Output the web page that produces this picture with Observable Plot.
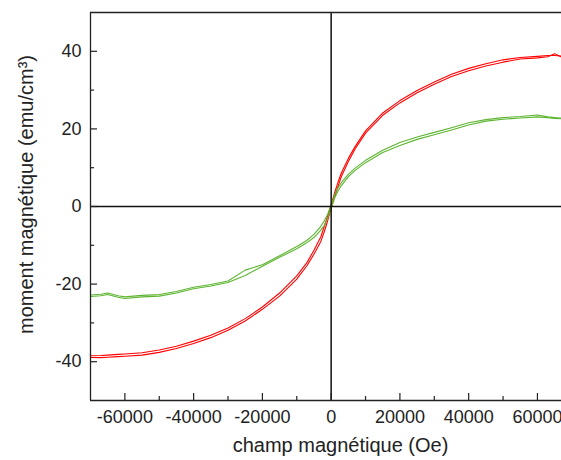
<!DOCTYPE html>
<html>
<head>
<meta charset="utf-8">
<script src="https://cdn.jsdelivr.net/npm/d3@7"></script>
<script src="https://cdn.jsdelivr.net/npm/@observablehq/plot@0.6"></script>
<style>
  html, body { margin: 0; padding: 0; background: #fff; }
</style>
</head>
<body>
<div id="chart"></div>
<script>
// Magnetic field (Oe)
const field = [-70000,-67000,-65000,-62000,-60000,-55000,-50000,-45000,-40000,-35000,-30000,-25000,-20000,-15000,-10000,-7000,-5000,-3000,-2000,-1000,0,1000,2000,3000,5000,7000,10000,15000,20000,25000,30000,35000,40000,45000,50000,55000,60000,63000,65000,67000];

// Red sample: descending and ascending branches (emu/cm3)
const redDown = [-38.45,-38.4,-38.3,-38.1,-38.0,-37.7,-37.0,-36.0,-34.7,-33.2,-31.3,-28.9,-25.9,-22.3,-17.9,-14.4,-11.3,-7.8,-5.1,-2.4,0.4,3.5,6.3,8.7,12.4,15.5,19.5,24.1,27.3,29.9,32.1,34.1,35.6,36.8,37.8,38.4,38.7,38.9,38.9,38.8];
const redUp   = [-38.9,-38.95,-38.85,-38.7,-38.6,-38.3,-37.6,-36.6,-35.3,-33.8,-31.9,-29.5,-26.5,-23.1,-18.7,-15.2,-12.3,-9.0,-6.5,-3.6,-0.4,2.4,5.2,7.8,11.6,14.9,18.9,23.5,26.7,29.3,31.5,33.5,35.0,36.2,37.2,38.0,38.3,38.6,39.4,38.5];

// Green sample: descending and ascending branches (emu/cm3)
const greenDown = [-22.8,-22.6,-22.3,-23.0,-23.3,-22.9,-22.7,-21.9,-20.8,-20.1,-19.2,-16.4,-15.0,-12.7,-10.3,-8.7,-7.2,-5.1,-3.7,-2.0,0.5,3.0,4.8,6.2,8.3,9.9,11.9,14.5,16.5,17.9,19.1,20.3,21.6,22.4,22.9,23.2,23.6,23.1,22.9,22.8];
const greenUp   = [-23.2,-23.0,-22.7,-23.4,-23.7,-23.3,-23.1,-22.3,-21.2,-20.5,-19.6,-17.8,-15.4,-13.1,-10.9,-9.3,-8.0,-6.1,-4.9,-3.0,-0.5,2.2,4.0,5.4,7.7,9.3,11.3,13.9,15.7,17.3,18.5,19.7,21.0,22.0,22.5,22.8,23.1,22.9,22.7,22.6];

// Ticks
const xMajor = [-60000,-40000,-20000,0,20000,40000,60000];
const xMinor = [-50000,-30000,-10000,10000,30000,50000];
const yMajor = [-40,-20,0,20,40];
const yMinor = [-30,-10,10,30];

const xLabel = "champ magnétique (Oe)";
const yLabel = "moment magnétique (emu/cm³)";

const toRows = (ys) => field.map((x, i) => ({x, y: ys[i]}));

const W = 561, H = 460, mL = 90, mR = 0, mT = 12, mB = 60;
const plotW = W - mL - mR, plotH = H - mT - mB;

const chart = Plot.plot({
  width: W,
  height: H,
  marginLeft: mL,
  marginRight: mR,
  marginTop: mT,
  marginBottom: mB,
  x: {domain: [-70000, 67000]},
  y: {domain: [-50, 50]},
  style: {fontFamily: "'Liberation Sans', Arial, sans-serif", fontSize: "18px", color: "#222", background: "#fff"},
  marks: [
    Plot.line(toRows(redDown), {x: "x", y: "y", stroke: "#ff0000", strokeWidth: 1.1, clip: true}),
    Plot.line(toRows(redUp), {x: "x", y: "y", stroke: "#ff0000", strokeWidth: 1.1, clip: true}),
    Plot.line(toRows(greenDown), {x: "x", y: "y", stroke: "#5db531", strokeWidth: 1.1, clip: true}),
    Plot.line(toRows(greenUp), {x: "x", y: "y", stroke: "#5db531", strokeWidth: 1.1, clip: true}),
    // zero cross lines
    Plot.ruleX([0], {stroke: "#111", strokeWidth: 1.5}),
    Plot.ruleY([0], {stroke: "#111", strokeWidth: 1.5}),
    // frame (left, top, bottom)
    Plot.ruleX([-70000], {stroke: "#222", strokeWidth: 1.3}),
    Plot.ruleY([50, -50], {stroke: "#222", strokeWidth: 1.3}),
    // inward ticks
    Plot.tickY(yMajor, {y: d => d, insetRight: plotW - 7, stroke: "#222", strokeWidth: 1.2}),
    Plot.tickY(yMinor, {y: d => d, insetRight: plotW - 4, stroke: "#222", strokeWidth: 1.2}),
    Plot.tickX(xMajor, {x: d => d, insetTop: plotH - 7, stroke: "#222", strokeWidth: 1.2}),
    Plot.tickX(xMinor, {x: d => d, insetTop: plotH - 4, stroke: "#222", strokeWidth: 1.2}),
    // tick labels
    Plot.axisY({ticks: yMajor, tickSize: 0, tickPadding: 9, tickFormat: d => String(d), label: null}),
    Plot.axisX({ticks: xMajor, tickSize: 0, tickPadding: 10, tickFormat: d => String(d), label: null}),
    // axis titles
    Plot.text([xLabel], {text: d => d, frameAnchor: "bottom", textAnchor: "middle", lineAnchor: "middle", dx: 14.5, dy: 45.5, fontSize: 20, fill: "#222"}),
    Plot.text([yLabel], {text: d => d, frameAnchor: "left", textAnchor: "middle", lineAnchor: "middle", rotate: -90, dx: -64, dy: -12, fontSize: 20, fill: "#222"})
  ]
});

document.getElementById("chart").appendChild(chart);
</script>
</body>
</html>
